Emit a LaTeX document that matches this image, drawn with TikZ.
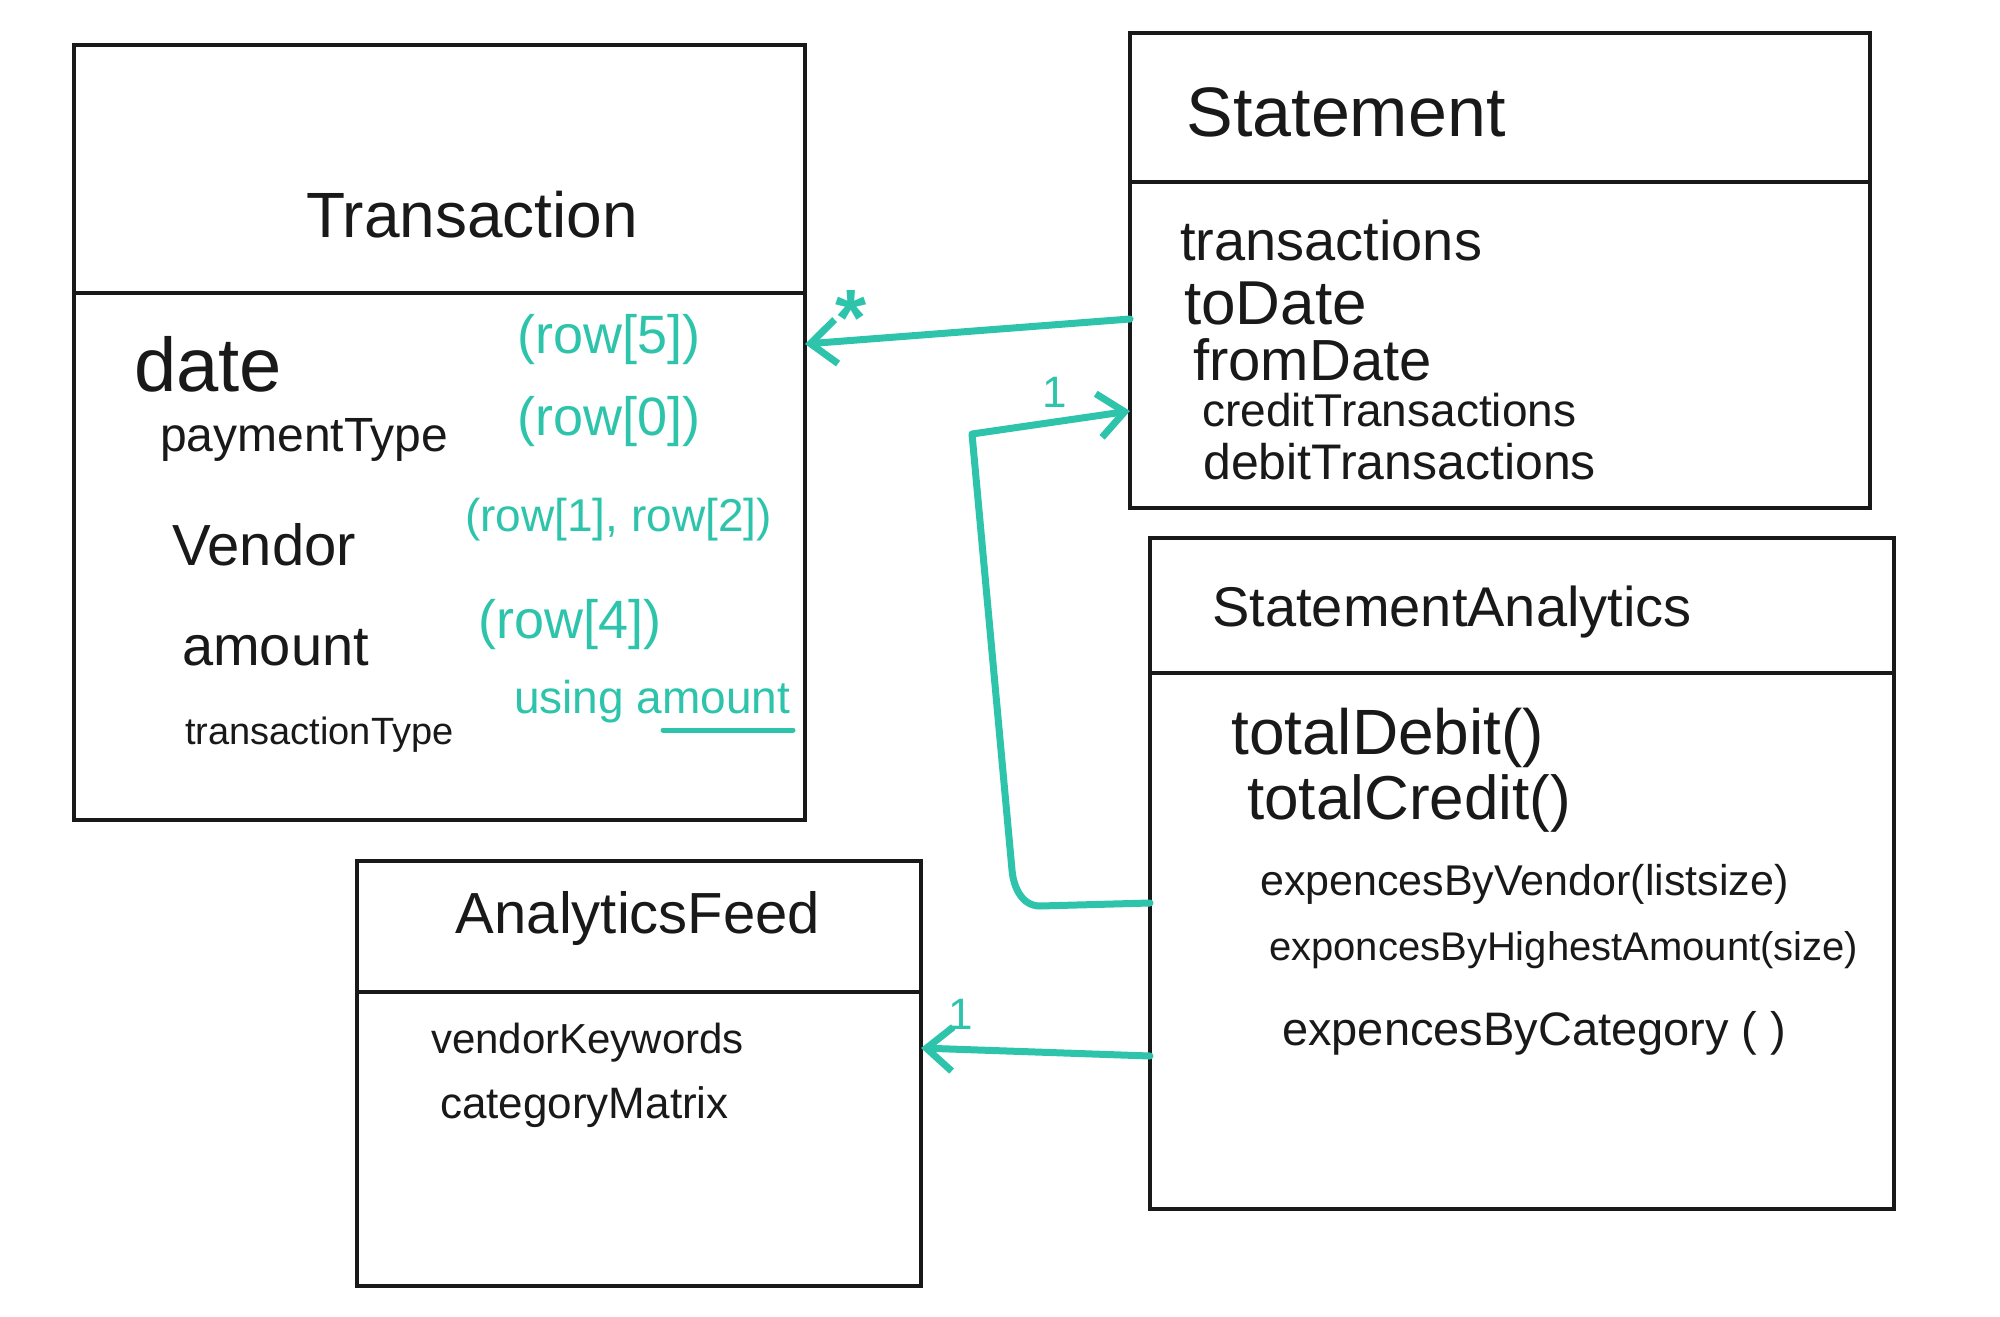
\documentclass[tikz,border=0pt]{standalone}
\usepackage{fontspec}
\setmainfont{Liberation Sans}
\usetikzlibrary{arrows.meta}
\definecolor{marker}{RGB}{46,196,172}
\definecolor{ink}{RGB}{25,25,25}
\newcommand{\fsz}[1]{\fontsize{#1}{#1}\selectfont}
\tikzset{
  classbox/.style={draw=ink, line width=4.5pt, anchor=north west, inner sep=0pt, outer sep=0pt},
  divider/.style={draw=ink, line width=4.5pt},
  txt/.style={inner sep=0pt, anchor=west, text=ink},
  title/.style={inner sep=0pt, anchor=center, text=ink},
  note/.style={inner sep=0pt, anchor=west, text=marker},
  link/.style={draw=marker, line width=7pt, line cap=round, line join=round,
    -{Straight Barb[length=26pt,width=44pt,line width=7pt]}},
  mult/.style={inner sep=0pt, text=marker, anchor=center}
}
\begin{document}
\begin{tikzpicture}[x=1pt,y=-1pt]
\useasboundingbox[fill=white] (0,0) rectangle (2000,1317);

% boxes
\node[classbox, minimum width=731pt, minimum height=775pt] (tx) at (74,45) {};
\node[classbox, minimum width=740pt, minimum height=475pt] (st) at (1130,33) {};
\node[classbox, minimum width=744pt, minimum height=671pt] (sa) at (1150,538) {};
\node[classbox, minimum width=564pt, minimum height=425pt] (af) at (357,861) {};

% dividers
\draw[divider] (tx.west |- 0,293) -- (tx.east |- 0,293);
\draw[divider] (st.west |- 0,182) -- (st.east |- 0,182);
\draw[divider] (sa.west |- 0,673) -- (sa.east |- 0,673);
\draw[divider] (af.west |- 0,992) -- (af.east |- 0,992);

% titles
\node[title] (txt-title) at (472,215) {\fsz{64}Transaction};
\node[title] (st-title) at (1346,112) {\fsz{70}Statement};
\node[title] (sa-title) at (1452,612) {\fsz{56}StatementAnalytics};
\node[title] (af-title) at (638,918) {\fsz{58}AnalyticsFeed};

% Transaction attributes
\node[txt] (a1) at (134,364) {\fsz{76}date};
\node[txt] (a2) at (160,440) {\fsz{48}paymentType};
\node[txt] (a3) at (172,545) {\fsz{58}Vendor};
\node[txt] (a4) at (182,648) {\fsz{56}amount};
\node[txt] (a5) at (185,735) {\fsz{38}transactionType};

\node[note] (n1) at (517,340) {\fsz{54}(row[5])};
\node[note] (n2) at (517,422) {\fsz{54}(row[0])};
\node[note] (n3) at (465,520) {\fsz{46}(row[1], row[2])};
\node[note] (n4) at (478,625) {\fsz{54}(row[4])};
\node[note] (n5) at (514,702) {\fsz{46}using amount};
\coordinate (u1) at (663,730);
\coordinate (u2) at (793,730);
\draw[draw=marker, line width=5pt, line cap=round] (u1) -- (u2);

% Statement attributes
\node[txt] (s1) at (1180,240) {\fsz{56}transactions};
\node[txt] (s2) at (1184,303) {\fsz{62}toDate};
\node[txt] (s3) at (1193,360) {\fsz{58}fromDate};
\node[txt] (s4) at (1202,410) {\fsz{46}creditTransactions};
\node[txt] (s5) at (1203,462) {\fsz{50}debitTransactions};

% StatementAnalytics methods
\node[txt] (m1) at (1231,738) {\fsz{64}totalDebit()};
\node[txt] (m2) at (1247,803) {\fsz{62}totalCredit()};
\node[txt] (m3) at (1260,884) {\fsz{43}expencesByVendor(listsize)};
\node[txt] (m4) at (1269,950) {\fsz{40}exponcesByHighestAmount(size)};
\node[txt] (m5) at (1282,1033) {\fsz{47}expencesByCategory ( )};

% AnalyticsFeed attributes
\node[txt] (f1) at (431,1043) {\fsz{42}vendorKeywords};
\node[txt] (f2) at (440,1107) {\fsz{44}categoryMatrix};

% connectors
\draw[link] (st.west |- 0,319) -- (tx.east |- 0,344);
\node[mult] (m-star) at (851,318) {\fsz{80}\textbf{*}};

\coordinate (b1) at (1040,906);
\coordinate (b2) at (1012,870);
\coordinate (b3) at (972,434);
\draw[link] (sa.west |- 0,903) -- (b1) to[out=180,in=-85] (b2) -- (b3) -- (st.west |- 0,411);
\node[mult] (m-one-a) at (1055,392) {\fsz{44}1};

\draw[link] (sa.west |- 0,1056) -- (af.east |- 0,1048);
\node[mult] (m-one-b) at (961,1014) {\fsz{44}1};
\end{tikzpicture}
\end{document}
